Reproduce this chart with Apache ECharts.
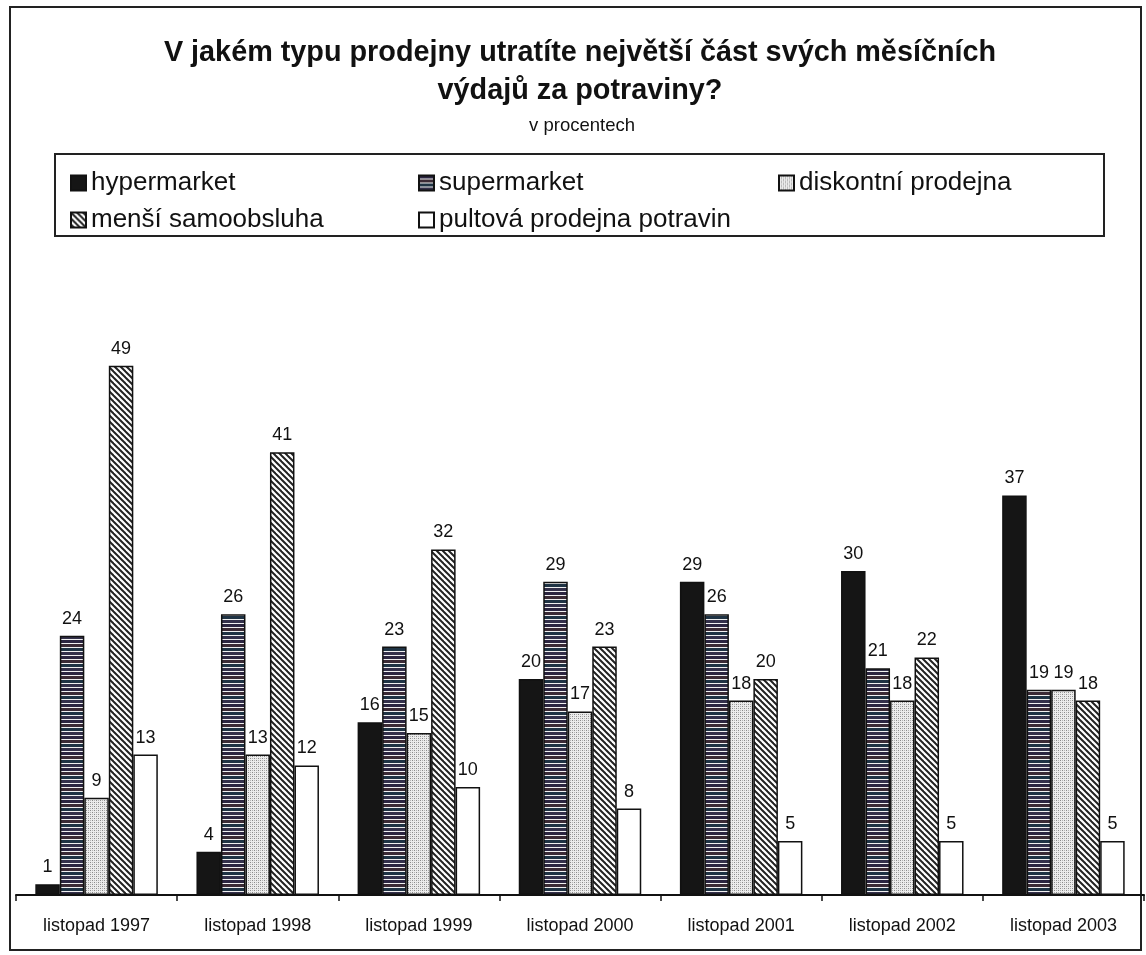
<!DOCTYPE html>
<html>
<head>
<meta charset="utf-8">
<script src="https://cdn.jsdelivr.net/npm/echarts@6/dist/echarts.min.js"></script>
<style>
  html, body { margin: 0; padding: 0; background: #fff; }
  #main { width: 1146px; height: 955px; }
</style>
</head>
<body>
<div id="main"></div>
<script>
const categories = ['listopad 1997', 'listopad 1998', 'listopad 1999', 'listopad 2000', 'listopad 2001', 'listopad 2002', 'listopad 2003'];
const seriesNames = ['hypermarket', 'supermarket', 'diskontní prodejna', 'menší samoobsluha', 'pultová prodejna potravin'];
const hypermarket = [1, 4, 16, 20, 29, 30, 37];
const supermarket = [24, 26, 23, 29, 26, 21, 19];
const diskontni = [9, 13, 15, 17, 18, 18, 19];
const mensiSamoobsluha = [49, 41, 32, 23, 20, 22, 18];
const pultova = [13, 12, 10, 8, 5, 5, 5];

const FONT = '"Liberation Sans", Arial, sans-serif';

// fill patterns drawn on small canvases
function makePattern(w, h, draw) {
    const c = document.createElement('canvas');
    c.width = w; c.height = h;
    draw(c.getContext('2d'));
    return { image: c, repeat: 'repeat' };
}

const stripes = makePattern(4, 16, ctx => {
    ctx.fillStyle = '#f0f0f0';
    ctx.fillRect(0, 0, 4, 16);
    const dark = ['#2b2540', '#3a2a35', '#1f3344', '#33304a'];
    for (let i = 0; i < 4; i++) {
        ctx.fillStyle = dark[i];
        ctx.fillRect(0, i * 4, 4, 3);
    }
});

const dots = makePattern(4, 4, ctx => {
    ctx.fillStyle = '#ececec';
    ctx.fillRect(0, 0, 4, 4);
    ctx.fillStyle = '#8a8a8a';
    ctx.fillRect(0, 0, 1, 1);
    ctx.fillRect(2, 2, 1, 1);
    ctx.fillStyle = '#b5b5b5';
    ctx.fillRect(2, 0, 1, 1);
    ctx.fillRect(0, 2, 1, 1);
});

const hatch = makePattern(6, 6, ctx => {
    ctx.fillStyle = '#ffffff';
    ctx.fillRect(0, 0, 6, 6);
    ctx.strokeStyle = '#222';
    ctx.lineWidth = 2;
    for (let k = -6; k <= 6; k += 6) {
        ctx.beginPath();
        ctx.moveTo(k - 1, -1);
        ctx.lineTo(k + 7, 7);
        ctx.stroke();
    }
});

const fills = ['#151515', stripes, dots, hatch, '#ffffff'];
const values = [hypermarket, supermarket, diskontni, mensiSamoobsluha, pultova];

const chart = echarts.init(document.getElementById('main'));

const series = seriesNames.map((name, i) => ({
    name: name,
    type: 'bar',
    data: values[i],
    barWidth: 24.5,
    barGap: '0%',
    itemStyle: { color: fills[i], borderColor: '#111', borderWidth: 1.5 },
    label: {
        show: true,
        position: 'top',
        distance: 8,
        fontSize: 18,
        fontFamily: FONT,
        color: '#111'
    }
}));

const legendBase = {
    orient: 'vertical',
    top: 165,
    itemWidth: 15,
    itemHeight: 15,
    itemGap: 11,
    icon: 'rect',
    textStyle: { fontSize: 26, fontFamily: FONT, color: '#111', lineHeight: 26 },
    selectedMode: false
};

chart.setOption({
    backgroundColor: '#ffffff',
    animation: false,
    title: [{
        text: 'V jakém typu prodejny utratíte největší část svých měsíčních\nvýdajů za potraviny?',
        left: 575,
        top: 29,
        textAlign: 'center',
        textStyle: { fontSize: 28.8, fontWeight: 'bold', fontFamily: FONT, color: '#111', lineHeight: 38 }
    }, {
        text: 'v procentech',
        left: 577,
        top: 111,
        textAlign: 'center',
        textStyle: { fontSize: 18.5, fontWeight: 'normal', fontFamily: FONT, color: '#111' }
    }],
    legend: [
        Object.assign({}, legendBase, { left: 65, data: ['hypermarket', 'menší samoobsluha'] }),
        Object.assign({}, legendBase, { left: 413, data: ['supermarket', 'pultová prodejna potravin'] }),
        Object.assign({}, legendBase, { left: 773, data: ['diskontní prodejna'] })
    ],
    grid: { left: 16, right: 2, top: 247, bottom: 60, containLabel: false },
    xAxis: {
        type: 'category',
        data: categories,
        axisLine: { lineStyle: { color: '#111', width: 2 } },
        axisTick: { show: true, length: 6, lineStyle: { color: '#111', width: 1.5 } },
        axisLabel: { fontSize: 18, fontFamily: FONT, color: '#111', margin: 22 }
    },
    yAxis: {
        type: 'value',
        min: 0,
        max: 60,
        show: false
    },
    graphic: [{
        type: 'rect',
        shape: { x: 10, y: 7, width: 1131, height: 943 },
        style: { fill: null, stroke: '#222', lineWidth: 2 },
        silent: true
    }, {
        type: 'rect',
        shape: { x: 55, y: 154, width: 1049, height: 82 },
        style: { fill: null, stroke: '#222', lineWidth: 2 },
        silent: true
    }],
    series: series
});
</script>
</body>
</html>
